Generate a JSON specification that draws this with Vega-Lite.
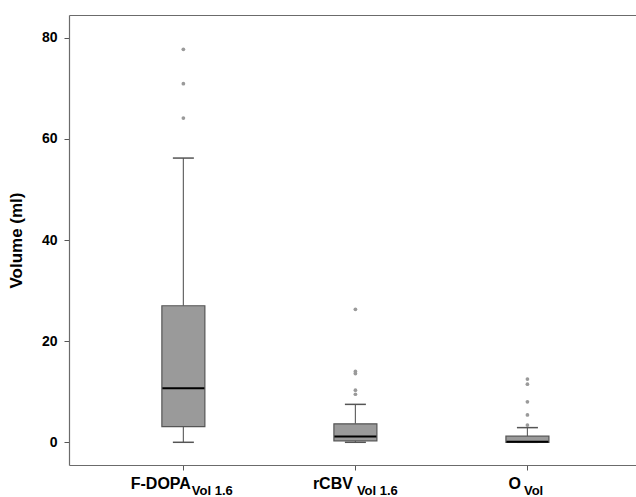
{
  "$schema": "https://vega.github.io/schema/vega-lite/v6.json",
  "width": 567,
  "height": 450,
  "autosize": "none",
  "padding": {"left": 69, "top": 15, "right": 0, "bottom": 32},
  "background": "white",
  "config": {
    "font": "Liberation Sans",
    "view": {"stroke": null}
  },
  "datasets": {
    "summary": [
      {"cat": "F-DOPA", "lower": 0, "q1": 3.1, "median": 10.7, "q3": 27.0, "upper": 56.2},
      {"cat": "rCBV", "lower": 0, "q1": 0.3, "median": 1.15, "q3": 3.65, "upper": 7.5},
      {"cat": "O", "lower": 0, "q1": 0.0, "median": 0.1, "q3": 1.2, "upper": 2.9}
    ],
    "outliers": [
      {"cat": "F-DOPA", "value": 77.7},
      {"cat": "F-DOPA", "value": 70.9},
      {"cat": "F-DOPA", "value": 64.1},
      {"cat": "rCBV", "value": 26.3},
      {"cat": "rCBV", "value": 14.0},
      {"cat": "rCBV", "value": 13.6},
      {"cat": "rCBV", "value": 10.3},
      {"cat": "rCBV", "value": 9.5},
      {"cat": "O", "value": 12.5},
      {"cat": "O", "value": 11.5},
      {"cat": "O", "value": 8.0},
      {"cat": "O", "value": 5.4},
      {"cat": "O", "value": 3.4}
    ]
  },
  "resolve": {"axis": {"x": "independent"}},
  "layer": [
    {
      "data": {"name": "summary"},
      "mark": {"type": "rule", "color": "#666666", "strokeWidth": 1.2},
      "encoding": {
        "x": {
          "field": "cat", "type": "nominal", "sort": ["F-DOPA", "rCBV", "O"],
          "scale": {"type": "point", "padding": 0.648, "align": 0.513},
          "axis": {
            "orient": "bottom", "title": null, "grid": false, "labelAngle": 0,
            "labelAlign": "right", "labelBaseline": "alphabetic", "labelPadding": 18,
            "labelFontSize": 16, "labelFontWeight": "bold", "labelColor": "black",
            "labelOverlap": false, "labelFlush": false, "labelBound": false,
            "labelOffset": {"condition": [{"test": "datum.value === 'F-DOPA'", "value": 7}, {"test": "datum.value === 'rCBV'", "value": -3}], "value": -7},
            "tickSize": 5, "tickColor": "#555555", "domainColor": "#6b6b6b", "domainWidth": 1.2
          }
        },
        "y": {
          "field": "lower", "type": "quantitative", "title": "Volume (ml)",
          "scale": {"domain": [-4.49, 84.49], "nice": false, "zero": false},
          "axis": {
            "values": [0, 20, 40, 60, 80], "grid": false,
            "titleFontSize": 17, "titleFontWeight": "bold", "titleColor": "black", "titlePadding": 16,
            "labelFontSize": 14, "labelFontWeight": "bold", "labelColor": "black", "labelPadding": 7,
            "tickSize": 5, "tickColor": "#555555", "domainColor": "#6b6b6b", "domainWidth": 1.2
          }
        },
        "y2": {"field": "q1"}
      }
    },
    {
      "data": {"name": "summary"},
      "mark": {"type": "rule", "color": "#666666", "strokeWidth": 1.2},
      "encoding": {
        "x": {"field": "cat", "type": "nominal", "sort": ["F-DOPA", "rCBV", "O"], "axis": null},
        "y": {"field": "q3", "type": "quantitative", "title": "Volume (ml)"},
        "y2": {"field": "upper"}
      }
    },
    {
      "data": {"name": "summary"},
      "mark": {"type": "tick", "color": "#555555", "size": 21, "thickness": 1.5, "opacity": 1},
      "encoding": {
        "x": {"field": "cat", "type": "nominal", "sort": ["F-DOPA", "rCBV", "O"], "axis": null},
        "y": {"field": "lower", "type": "quantitative", "title": "Volume (ml)"}
      }
    },
    {
      "data": {"name": "summary"},
      "mark": {"type": "tick", "color": "#555555", "size": 21, "thickness": 1.5, "opacity": 1},
      "encoding": {
        "x": {"field": "cat", "type": "nominal", "sort": ["F-DOPA", "rCBV", "O"], "axis": null},
        "y": {"field": "upper", "type": "quantitative", "title": "Volume (ml)"}
      }
    },
    {
      "data": {"name": "summary"},
      "mark": {"type": "bar", "width": 43, "fill": "#9a9a9a", "stroke": "#555555", "strokeWidth": 1.2},
      "encoding": {
        "x": {"field": "cat", "type": "nominal", "sort": ["F-DOPA", "rCBV", "O"], "axis": null},
        "y": {"field": "q1", "type": "quantitative", "title": "Volume (ml)"},
        "y2": {"field": "q3"}
      }
    },
    {
      "data": {"name": "summary"},
      "mark": {"type": "tick", "color": "black", "size": 42, "thickness": 2, "opacity": 1},
      "encoding": {
        "x": {
          "field": "cat", "type": "nominal", "sort": ["F-DOPA", "rCBV", "O"],
          "axis": {
            "orient": "bottom", "title": null, "grid": false, "domain": false, "ticks": false, "tickSize": 0, "labelAngle": 0,
            "labelExpr": "datum.value === 'O' ? 'Vol' : 'Vol 1.6'",
            "labelAlign": "left", "labelBaseline": "alphabetic", "labelPadding": 29,
            "labelFontSize": 13, "labelFontWeight": "bold", "labelColor": "black",
            "labelOverlap": false, "labelFlush": false, "labelBound": false,
            "labelOffset": {"condition": [{"test": "datum.value === 'F-DOPA'", "value": 8}, {"test": "datum.value === 'rCBV'", "value": 1}], "value": -4}
          }
        },
        "y": {"field": "median", "type": "quantitative", "title": "Volume (ml)"}
      }
    },
    {
      "data": {"name": "outliers"},
      "mark": {"type": "circle", "color": "#9a9a9a", "size": 14, "opacity": 1},
      "encoding": {
        "x": {
          "field": "cat", "type": "nominal", "sort": ["F-DOPA", "rCBV", "O"],
          "axis": {"orient": "top", "title": null, "grid": false, "labels": false, "ticks": false, "domain": true, "domainColor": "#6b6b6b", "domainWidth": 1.2}
        },
        "y": {"field": "value", "type": "quantitative", "title": "Volume (ml)"}
      }
    }
  ]
}
